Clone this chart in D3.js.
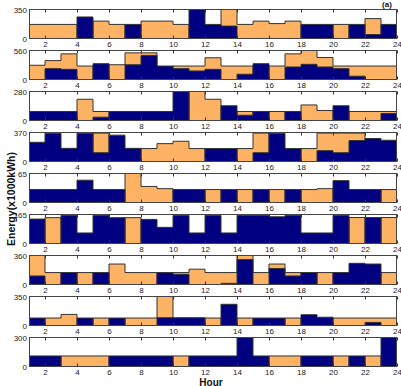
<!DOCTYPE html>
<html><head><meta charset="utf-8">
<script src="https://cdn.jsdelivr.net/npm/d3@7/dist/d3.min.js"></script>
<style>
body{margin:0;background:#fff}
svg{display:block}
text{font-family:"Liberation Sans",Arial,Helvetica,sans-serif}
</style>
</head><body>
<svg id="chart" width="401" height="386"></svg>
<script>
// Hours at which each step starts (1..23); the last step ends at hour 24
const hours = d3.range(1, 24);
const hourTicks = [2,4,6,8,10,12,14,16,18,20,22,24];
const yMax = [350, 560, 280, 370, 65, 165, 360, 350, 300];

// orange series per panel (23 hourly steps)
const orange = [
  [170,170,170,0,210,170,0,210,210,170,0,0,350,170,210,180,210,0,0,170,0,240,0],
  [275,365,495,260,0,285,515,515,0,260,260,420,260,260,0,260,495,560,425,260,260,260,260],
  [0,0,0,205,87,0,0,0,0,0,280,205,0,87,0,87,0,150,97,0,87,87,87],
  [0,0,0,0,362,0,0,165,228,258,165,0,0,165,362,0,0,165,362,362,362,0,0],
  [0,0,0,0,0,0,65,36,31,0,0,29,0,29,0,29,0,29,31,0,0,0,29],
  [0,147,0,0,0,0,147,0,0,0,0,0,0,0,0,0,0,0,0,0,148,0,148],
  [360,148,0,148,0,254,148,148,0,148,190,148,148,360,148,254,148,0,148,0,0,0,148],
  [0,90,134,0,90,0,90,90,350,0,0,90,0,90,0,0,90,0,0,90,90,90,90],
  [0,0,109,109,109,0,0,0,0,109,0,0,0,0,0,109,109,0,0,109,0,109,0]
];
// navy series per panel (23 hourly steps)
const navy = [
  [0,0,0,260,0,0,170,0,0,0,350,170,150,0,0,0,0,170,170,0,170,48,170],
  [0,210,197,0,305,0,285,465,260,210,165,197,0,102,305,0,242,293,242,210,64,0,0],
  [87,87,87,0,32,87,87,87,87,280,0,0,142,51,87,0,87,0,0,142,0,0,68],
  [245,362,168,362,112,336,168,0,0,0,0,165,165,0,112,362,165,0,138,112,267,293,271],
  [29,29,29,50,29,29,0,0,0,29,29,0,29,0,29,0,29,0,0,49,29,29,0],
  [139,0,160,60,160,147,0,137,92,160,60,160,60,160,160,152,160,60,60,160,0,148,0],
  [106,0,148,0,148,0,0,0,148,127,0,0,14,309,0,199,106,148,0,148,263,254,0],
  [90,0,0,90,0,90,0,0,94,94,94,0,256,0,90,90,0,130,100,0,0,37,0],
  [109,109,0,0,0,109,109,109,109,0,109,109,109,300,109,0,0,109,109,0,109,0,300]
];

const svg = d3.select("#chart");
const left = 29, right = 397;
const top0 = 9, step = 41.04, ph = 29.3;
const navyColor = "#000080", orangeColor = "#FDB264", edge = "#333";

const x = d3.scaleLinear().domain([1, 24]).range([left, right]);

function steps(vals){
  const pts = hours.map((h, i) => [h, vals[i]]);
  pts.push([24, vals[vals.length - 1]]);
  return pts;
}

yMax.forEach((ymax, p) => {
  const top = Math.round(top0 + step * p) + 0.5;
  const bottom = top + Math.round(ph);
  const y = d3.scaleLinear().domain([0, ymax]).range([bottom, top]);
  const g = svg.append("g");

  const clipId = "clip" + p;
  svg.append("clipPath").attr("id", clipId)
    .append("rect").attr("x", left).attr("y", top).attr("width", right - left).attr("height", bottom - top);

  const area = d3.area().curve(d3.curveStepAfter)
    .x(d => x(d[0])).y0(y(0)).y1(d => y(d[1]));
  const line = d3.line().curve(d3.curveStepAfter)
    .x(d => x(d[0])).y(d => y(d[1]));

  const plot = g.append("g").attr("clip-path", `url(#${clipId})`);
  [[orange[p], orangeColor], [navy[p], navyColor]].forEach(([vals, col]) => {
    const pts = steps(vals);
    plot.append("path").attr("d", area(pts)).attr("fill", col);
    plot.append("path").attr("d", line(pts)).attr("fill", "none")
      .attr("stroke", edge).attr("stroke-width", 1);
  });

  // frame
  g.append("rect").attr("x", left + 0.5).attr("y", top).attr("width", right - left - 1).attr("height", bottom - top)
    .attr("fill", "none").attr("stroke", "#444").attr("stroke-width", 1);

  // bottom axis with inward ticks and labels
  const ax = g.append("g").attr("transform", `translate(0,${bottom})`)
    .call(d3.axisBottom(x).tickValues(hourTicks).tickSize(-3).tickPadding(3));
  ax.select(".domain").remove();
  ax.selectAll("line").attr("stroke", "#333");
  ax.selectAll("text").attr("font-size", 8).attr("fill", "#222")
    .style("font-family", '"Liberation Sans",Arial,sans-serif');

  // top axis ticks only
  const axt = g.append("g").attr("transform", `translate(0,${top})`)
    .call(d3.axisTop(x).tickValues(hourTicks).tickSize(-3).tickFormat(""));
  axt.select(".domain").remove();
  axt.selectAll("line").attr("stroke", "#333");

  // left y labels
  const ay = g.append("g").attr("transform", `translate(${left},0)`)
    .call(d3.axisLeft(y).tickValues([0, ymax]).tickSize(0).tickPadding(2));
  ay.select(".domain").remove();
  ay.selectAll("text").attr("font-size", 8).attr("fill", "#222")
    .style("font-family", '"Liberation Sans",Arial,sans-serif');
});

svg.append("text").attr("x", 211).attr("y", 385.5).attr("text-anchor", "middle")
  .attr("font-size", 10).attr("font-weight", "bold").attr("fill", "#111").text("Hour");

svg.append("text").attr("transform", "translate(14.5,199) rotate(-90)").attr("text-anchor", "middle")
  .attr("font-size", 10.5).attr("font-weight", "bold").attr("fill", "#111").text("Energy(x1000kWh)");

svg.append("text").attr("x", 387).attr("y", 6.5).attr("text-anchor", "middle")
  .attr("font-size", 8).attr("font-weight", "bold").attr("fill", "#111").text("(a)");
</script>
</body></html>
